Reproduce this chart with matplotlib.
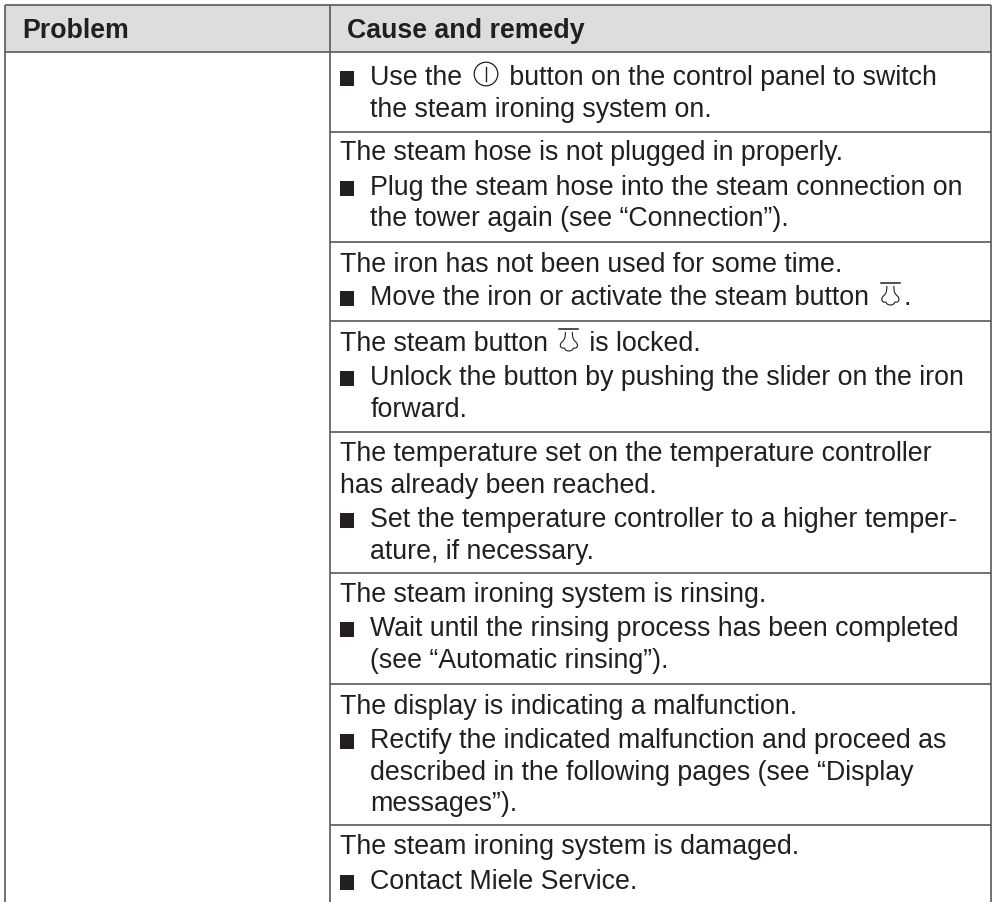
import matplotlib
matplotlib.use('Agg')
import matplotlib.pyplot as plt
from matplotlib.patches import Circle, PathPatch, Rectangle
from matplotlib.path import Path

plt.rcParams['font.family'] = ['Liberation Sans', 'DejaVu Sans']

# table text, <P> = power icon, <S> = steam icon, * = bullet
headers = ['Problem', 'Cause and remedy']
cell_lines = [
    '*Use the <P> button on the control panel to switch',
    ' the steam ironing system on.',
    'The steam hose is not plugged in properly.',
    '*Plug the steam hose into the steam connection on',
    ' the tower again (see “Connection”).',
    'The iron has not been used for some time.',
    '*Move the iron or activate the steam button <S>.',
    'The steam button <S> is locked.',
    '*Unlock the button by pushing the slider on the iron',
    ' forward.',
    'The temperature set on the temperature controller',
    'has already been reached.',
    '*Set the temperature controller to a higher temper-',
    ' ature, if necessary.',
    'The steam ironing system is rinsing.',
    '*Wait until the rinsing process has been completed',
    ' (see “Automatic rinsing”).',
    'The display is indicating a malfunction.',
    '*Rectify the indicated malfunction and proceed as',
    ' described in the following pages (see “Display',
    ' messages”).',
    'The steam ironing system is damaged.',
    '*Contact Miele Service.',
]
baselines = [85, 117, 160, 195, 226, 272, 305, 351, 385, 417, 461, 493, 527, 559,
             602, 636, 668, 714, 748, 780, 811, 854, 889]
row_lines = [132, 242, 321, 432, 573, 684, 825]

TEXT = '#231f20'
RULE = '#58595b'
FS = 19.3
PAD = 4

fig = plt.figure(figsize=(9.94, 9.02), dpi=100)
ax = fig.add_axes([0, 0, 1, 1])
ax.set_xlim(0, 994)
ax.set_ylim(902, 0)
ax.axis('off')

# header band and rules
ax.add_patch(Rectangle((5, 5), 986, 47, fc='#dcddde', ec='none', zorder=0))
for y in [5, 52] + row_lines:
    x0 = 5 if y < 60 else 330
    ax.plot([x0, 991], [y, y], color=RULE, lw=1.2, zorder=1, solid_capstyle='butt')
for x in [5, 330, 991]:
    ax.plot([x, x], [5, 902], color=RULE, lw=1.2, zorder=1, solid_capstyle='butt')

ax.text(22, 38, headers[0], fontsize=FS, fontweight='bold', color=TEXT, va='baseline')
ax.text(347, 38, headers[1], fontsize=FS, fontweight='bold', color=TEXT, va='baseline')


def power_icon(x, y):
    ax.add_patch(Circle((x + 12, y - 11), 11.8, fc='none', ec=TEXT, lw=0.9))
    ax.plot([x + 12, x + 12], [y - 18, y - 4], color=TEXT, lw=1.0)
    return 24


def steam_icon(x, y):
    ax.plot([x, x + 19], [y - 22, y - 22], color=TEXT, lw=1.1)
    # open bulb outline, drawn left to right
    verts = [(x + 6, y - 19),
             (x + 6, y - 13), (x + 5, y - 11), (x + 2.5, y - 9),
             (x - 0.5, y - 6), (x + 1, y - 2), (x + 5, y - 3),
             (x + 6, y + 1), (x + 13, y + 1), (x + 14, y - 3),
             (x + 18, y - 2), (x + 19.5, y - 6), (x + 16.5, y - 9),
             (x + 14, y - 11), (x + 13, y - 13), (x + 13, y - 19)]
    codes = [Path.MOVETO] + [Path.CURVE4] * 15
    ax.add_patch(PathPatch(Path(verts, codes), fc='none', ec=TEXT, lw=0.8))
    return 19


icons = {'<P>': power_icon, '<S>': steam_icon}
renderer = fig.canvas.get_renderer()

for line, y in zip(cell_lines, baselines):
    x = 340
    if line[0] == '*':
        ax.add_patch(Rectangle((339.5, y - 14), 14.5, 14.5, fc=TEXT, ec='none'))
        x = 370.5
        line = line[1:]
    elif line[0] == ' ':
        x = 370.5
        line = line[1:]
    # text runs around the icons
    parts = line.replace('<P>', '|<P>|').replace('<S>', '|<S>|').split('|')
    for part in parts:
        if part in icons:
            x += PAD
            x += icons[part](x, y) + PAD
        elif part:
            t = ax.text(x, y, part, fontsize=FS, color=TEXT, va='baseline')
            x = t.get_window_extent(renderer).x1

fig.savefig('out.png', dpi=100)
